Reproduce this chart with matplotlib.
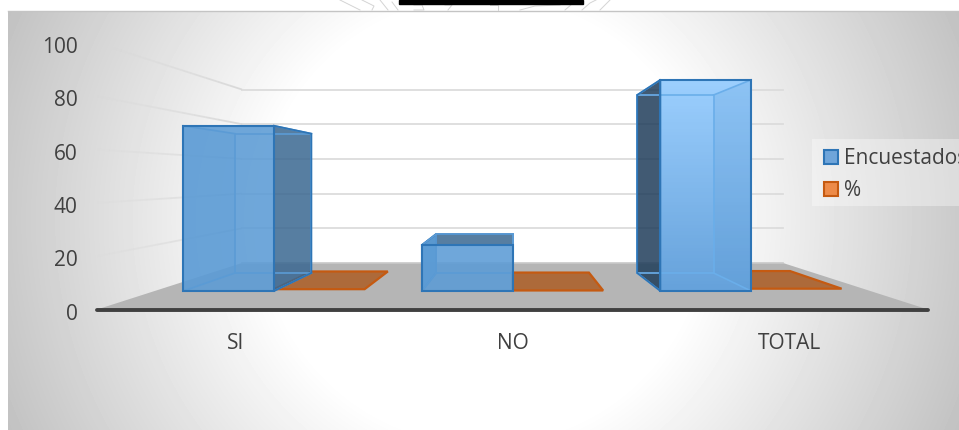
#!/usr/bin/env python3
# 3D-look clustered bars (Excel style), perspective done by hand on a normal axes
import numpy as np
import matplotlib
matplotlib.use("Agg")
import matplotlib.pyplot as plt
from matplotlib.patches import Polygon, Patch, Rectangle
from matplotlib.transforms import ScaledTranslation

categories = ["SI", "NO", "TOTAL"]
encuestados = [72, 20, 92]
porcentaje = [0.78, 0.22, 1.0]
yticks = [0, 20, 40, 60, 80, 100]
legend_labels = ["Encuestados", "%"]

W, H = 959, 430
plt.rcParams['font.family'] = ['Open Sans', 'DejaVu Sans']

# perspective: s is the scale at a given depth, 1 = front plane
VX, VY = 1.0, 50.0
S_BACK = 0.651
S1, S2 = 0.861, 0.726
BAR_W = 0.38


def proj(x, v, s):
    return VX + s * (x - VX), VY + s * (v - VY)


def quad(*pts):
    return [proj(*p) for p in pts]


fig = plt.figure(figsize=(W / 100, H / 100), dpi=100, facecolor="white")

# background: circular white to gray gradient
bg = fig.add_axes([0, 0, 1, 1], zorder=0)
bg.axis("off")
xx, yy = np.meshgrid(np.arange(8, W), np.arange(11, H))
dist = np.hypot(xx - 483, yy - 220)
shade = 1 - 0.25 * np.clip((dist - 220) / 310, 0, 1)
bg.imshow(shade, extent=(8, W, H, 11), cmap="gray", vmin=0, vmax=1, aspect="auto", zorder=0)
bg.set_xlim(0, W)
bg.set_ylim(H, 0)
bg.plot([8, W], [11, 11], color="#c4c4c4", lw=1, zorder=1)
bg.add_patch(Rectangle((399, 0), 184, 4, color="black", zorder=2))
bg.add_patch(Rectangle((812, 139), 147, 67, fc="white", alpha=0.35, ec="none", zorder=1))
# bits of the seal watermark above the chart
for xs, ys in [([340, 352, 360], [0, 6, 10]), ([362, 368, 374, 372], [0, 3, 6, 10]),
               ([380, 384, 388], [0, 5, 10]), ([392, 398], [2, 10]),
               ([414, 422, 424, 414], [5, 5, 10, 10]), ([445, 452, 448], [5, 5, 10]),
               ([490, 498, 498], [5, 5, 10]), ([520, 535, 560], [10, 6, 5]),
               ([565, 572], [10, 4]), ([582, 590, 596], [10, 3, 0]), ([600, 610], [10, 0])]:
    bg.plot(xs, ys, color="#d4d4d4", lw=0.7, zorder=1)

# front plane of the chart, in pixels 97..928 and 43..309.5
ax = fig.add_axes([97 / W, 1 - 309.5 / H, 831 / W, 266.5 / H], zorder=1)
ax.patch.set_alpha(0)
ax.set_xlim(-0.5, 2.5)
ax.set_ylim(0, 100)
for side in ["top", "left", "right"]:
    ax.spines[side].set_visible(False)
ax.spines["bottom"].set_linewidth(2.8)
ax.spines["bottom"].set_color("#404040")
ax.spines["bottom"].set_capstyle("round")
ax.set_xticks(range(len(categories)), categories)
ax.set_yticks(yticks)
ax.tick_params(axis="both", length=0, labelsize=15, labelcolor="#404040")
ax.tick_params(axis="y", pad=14)
ax.tick_params(axis="x", pad=17)
# y labels sit 2 px lower than the true tick
for lab in ax.get_yticklabels():
    lab.set_transform(lab.get_transform() + ScaledTranslation(0, -2 / 100, fig.dpi_scale_trans))

# floor
ax.add_patch(Polygon(quad((-0.5, 0, 1), (2.5, 0, 1), (2.5, 0, S_BACK), (-0.5, 0, S_BACK)),
                     fc="#b5b5b5", ec="none", zorder=1))
x0, y0 = proj(-0.5, 0, S_BACK)
x3, _ = proj(2.5, 0, S_BACK)
ax.plot([x0, x3], [y0, y0], color="#c9c9c9", lw=1.2, zorder=1)

# gridlines on back wall, fading ones on the left wall
for v in yticks[1:]:
    bx0, by = proj(-0.5, v, S_BACK)
    bx1, _ = proj(2.5, v, S_BACK)
    ax.plot([bx0, bx1], [by, by], color="#dcdcdc", lw=1.3, zorder=1)
    t = np.linspace(0, 1, 13)
    for a, b in zip(t[:-1], t[1:]):
        sa, sb = 1 + (S_BACK - 1) * a, 1 + (S_BACK - 1) * b
        pa, pb = proj(-0.5, v, sa), proj(-0.5, v, sb)
        ax.plot([pa[0], pb[0]], [pa[1], pb[1]], color="#d8d8d8", lw=1.3,
                alpha=0.15 + 0.85 * a, solid_capstyle="butt", zorder=1)

EDGE = "#2e75b6"
for i, v in enumerate(encuestados):
    xl, xr = i - BAR_W, i
    z = 3 + i
    # side face seen from outside the front rectangle
    side_x = xr if i < 1 else xl
    side_col = "#3a6791" if i == 0 else ("#5080ad" if i == 1 else "#1f3d5a")
    side_quad = quad((side_x, 0, S1), (side_x, v, S1), (side_x, v, S2), (side_x, 0, S2))
    if i != 1:
        ax.add_patch(Polygon(side_quad, fc=side_col, alpha=0.85, ec="none", zorder=z))
    # top of the short bar is seen from above
    if v < VY:
        ax.add_patch(Polygon(quad((xl, v, S1), (xr, v, S1), (xr, v, S2), (xl, v, S2)),
                             fc="#3a6791", alpha=0.85, ec=EDGE, lw=1.3, zorder=z))
    # the other sides show through the front face
    other = xl if i == 0 else xr
    if i != 1:
        ax.add_patch(Polygon(quad((other, 0, S1), (other, v, S1), (other, v, S2), (other, 0, S2)),
                             fc="#5b9bd5", alpha=0.25, ec="none", zorder=z))
    else:
        ax.add_patch(Polygon(quad((xl, 0, S1), (xl, v, S1), (xl, v, S2), (xl, 0, S2)),
                             fc="#5b9bd5", alpha=0.9, ec=EDGE, lw=1.3, zorder=z))
    # front face
    front = Polygon(quad((xl, 0, S1), (xr, 0, S1), (xr, v, S1), (xl, v, S1)),
                    fc="#5b9bd5" if i < 2 else "none", alpha=0.88 if i < 2 else 1,
                    ec="none", zorder=z + 0.1)
    ax.add_patch(front)
    if i == 2:
        # lit front of the total bar
        px0, py0 = proj(xl, 0, S1)
        px1, py1 = proj(xr, v, S1)
        grad = np.linspace(0, 1, 64).reshape(-1, 1)
        cols = np.zeros((64, 1, 4))
        cols[..., 0] = (0x66 + (0x9c - 0x66) * grad) / 255
        cols[..., 1] = (0xa2 + (0xcf - 0xa2) * grad) / 255
        cols[..., 2] = (0xdb + (0xfe - 0xdb) * grad) / 255
        cols[..., 3] = 1
        ax.imshow(cols, extent=(px0, px1, py0, py1), origin="lower", aspect="auto", zorder=z + 0.05)
        ax.set_xlim(-0.5, 2.5)
        ax.set_ylim(0, 100)
        # side seen through the front
        ax.add_patch(Polygon(quad((xr, 0, S1), (xr, v, S1), (xr, v, S2), (xr, 0, S2)),
                             fc="#5b9bd5", alpha=0.22, ec="none", zorder=z + 0.12))
    # inner (back) edges, lighter
    ax.add_patch(Polygon(quad((xl, 0, S2), (xr, 0, S2), (xr, v, S2), (xl, v, S2)),
                         fc="none", ec="#6aaeea" if i == 2 else "#5b9bd5", lw=1.2, zorder=z + 0.15))
    for cx in (xl, xr):
        for val in (0, v):
            pa, pb = proj(cx, val, S1), proj(cx, val, S2)
            ax.plot([pa[0], pb[0]], [pa[1], pb[1]], color="#6aaeea" if i == 2 else "#5b9bd5",
                    lw=1.2, zorder=z + 0.15)
    # outline of the visible side goes over the lighter inner edges
    if i != 1:
        ax.add_patch(Polygon(side_quad, fc="none", ec=EDGE, lw=1.3, zorder=z + 0.18))
    ax.add_patch(Polygon(quad((xl, 0, S1), (xr, 0, S1), (xr, v, S1), (xl, v, S1)),
                         fc="none", ec=EDGE, lw=1.5, zorder=z + 0.2))

# the % series is almost flat on the floor
for i, v in enumerate(porcentaje):
    xl, xr = i, i + BAR_W
    ax.add_patch(Polygon(quad((xl, v, S1), (xr, v, S1), (xr, v, S2), (xl, v, S2)),
                         fc="#ad6a3a", ec="#c55a11", lw=1.6, zorder=2.5))

handles = [Patch(fc="#6fa5da", ec=EDGE, lw=1.5), Patch(fc="#ed8b49", ec="#c55a11", lw=1.5)]
ax.legend(handles, legend_labels, loc="lower left", bbox_to_anchor=(824 / W, (H - 201) / H),
          bbox_transform=fig.transFigure, borderaxespad=0, borderpad=0, frameon=False,
          fontsize=15, labelcolor="#404040", handlelength=0.68, handleheight=0.68,
          handletextpad=0.3, labelspacing=0.53)

fig.savefig("out.png", dpi=100)
